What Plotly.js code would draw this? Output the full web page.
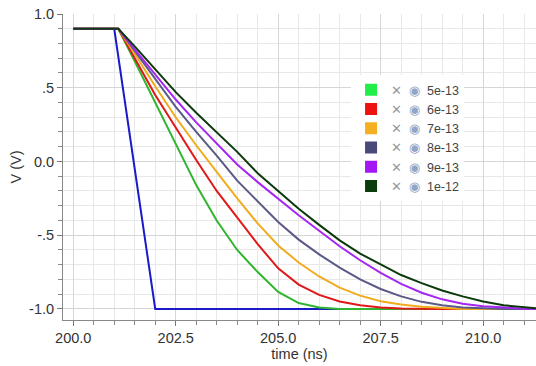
<!DOCTYPE html>
<html>
<head>
<meta charset="utf-8">
<script src="https://cdn.plot.ly/plotly-3.0.1.min.js"></script>
<style>html,body{margin:0;padding:0;background:#fff;}#chart{width:536px;height:366px;}</style>
</head>
<body>
<div id="chart"></div>
<script>
// time grid (ns) shared by the capacitance sweep
const timeNs = [200, 201.1, 201.5, 202, 202.5, 203, 203.5, 204, 204.5, 205, 205.5, 206, 206.5, 207, 207.5, 208, 208.5, 209, 209.5, 210, 210.5, 211, 211.3];
// input ramp (blue, not in legend)
const timeIn = [200, 201.0, 202.0, 211.3];
const vIn = [0.9, 0.9, -1.0, -1.0];
// sweep labels
const capLabels = ["5e-13", "6e-13", "7e-13", "8e-13", "9e-13", "1e-12"];
// output voltages per capacitance
const v5e13 = [0.9, 0.9, 0.68, 0.40, 0.12, -0.16, -0.40, -0.60, -0.75, -0.885, -0.96, -0.99, -1.0, -1.0, -1.0, -1.0, -1.0, -1.0, -1.0, -1.0, -1.0, -1.0, -1.0];
const v6e13 = [0.9, 0.9, 0.70, 0.45, 0.23, 0.01, -0.20, -0.38, -0.56, -0.725, -0.835, -0.905, -0.95, -0.975, -0.99, -0.997, -1.0, -1.0, -1.0, -1.0, -1.0, -1.0, -1.0];
const v7e13 = [0.9, 0.9, 0.73, 0.51, 0.30, 0.11, -0.07, -0.25, -0.42, -0.57, -0.685, -0.78, -0.855, -0.91, -0.948, -0.97, -0.985, -0.995, -1.0, -1.0, -1.0, -1.0, -1.0];
const v8e13 = [0.9, 0.9, 0.75, 0.56, 0.37, 0.20, 0.04, -0.13, -0.27, -0.41, -0.53, -0.63, -0.72, -0.80, -0.865, -0.915, -0.952, -0.975, -0.99, -0.997, -1.0, -1.0, -1.0];
const v9e13 = [0.9, 0.9, 0.76, 0.59, 0.42, 0.265, 0.12, -0.02, -0.14, -0.255, -0.365, -0.47, -0.575, -0.67, -0.755, -0.83, -0.89, -0.935, -0.965, -0.982, -0.992, -0.998, -1.0];
const v1e12 = [0.9, 0.9, 0.78, 0.625, 0.47, 0.33, 0.195, 0.065, -0.08, -0.20, -0.32, -0.43, -0.535, -0.625, -0.70, -0.77, -0.825, -0.875, -0.915, -0.95, -0.975, -0.99, -0.995];
// y tick labels
const yTickVals = [-1, -0.5, 0, 0.5, 1];
const yTickText = ["-1.0", "-.5", "0.0", ".5", "1.0"];

const series = [v5e13, v6e13, v7e13, v8e13, v9e13, v1e12];
const lineColors = ["#2fb52f", "#e01818", "#f0ac1e", "#5a5a86", "#a526f0", "#0c3a0c"];
const swatchColors = ["#22ee4a", "#ee1111", "#f5b021", "#4a4a7a", "#a317f5", "#0b3d0b"];

const traces = [];
traces.push({x: timeIn, y: vIn, type: "scatter", mode: "lines", line: {color: "#1a1ac8", width: 2}, showlegend: false});
series.forEach((v, i) => {
  traces.push({x: timeNs, y: v, type: "scatter", mode: "lines", line: {color: lineColors[i], width: 2}, showlegend: false});
});
capLabels.forEach((lab, i) => {
  traces.push({x: [null], y: [null], type: "scatter", mode: "markers",
    marker: {symbol: "square", size: 12, color: swatchColors[i]},
    name: '<span style="color:#999">✕</span>  <span style="color:#8fa6c6">◉</span>  ' + lab,
    showlegend: true});
});

const layout = {
  width: 536, height: 366,
  margin: {l: 63, r: 0, t: 14, b: 46},
  paper_bgcolor: "#fff", plot_bgcolor: "#fff",
  font: {family: "Liberation Sans, Arial, sans-serif", size: 13, color: "#333"},
  showlegend: true,
  legend: {x: 0.609, y: 0.80, xanchor: "left", yanchor: "top", bgcolor: "#fff",
    font: {size: 12.5, color: "#444"}, itemwidth: 30, traceorder: "normal"},
  xaxis: {
    range: [199.75, 211.29], tick0: 200, dtick: 2.5, tickformat: ".1f",
    ticks: "outside", ticklen: 5, tickcolor: "#777", showline: true, linecolor: "#888", linewidth: 1,
    showgrid: true, gridcolor: "#d6d6d6", zeroline: false,
    minor: {tick0: 200, dtick: 0.5, ticks: "outside", ticklen: 4, tickcolor: "#888", showgrid: true, gridcolor: "#e8e8e8"},
    tickfont: {size: 14.5, color: "#333"},
    title: {text: "time (ns)", font: {size: 14.5, color: "#333"}, standoff: 2}
  },
  yaxis: {
    range: [-1.075, 1.0], tickmode: "array", tickvals: yTickVals, ticktext: yTickText,
    ticks: "outside", ticklen: 5, tickcolor: "#777", showline: true, linecolor: "#888", linewidth: 1,
    showgrid: true, gridcolor: "#d6d6d6", zeroline: false,
    minor: {tickmode: "linear", tick0: 0, dtick: 0.1, ticks: "outside", ticklen: 4, tickcolor: "#888", showgrid: true, gridcolor: "#e8e8e8"},
    tickfont: {size: 14.5, color: "#333"},
    title: {text: "V (V)", font: {size: 14.5, color: "#333"}, standoff: 4}
  }
};

Plotly.newPlot("chart", traces, layout, {displayModeBar: false, staticPlot: true});
</script>
</body>
</html>
